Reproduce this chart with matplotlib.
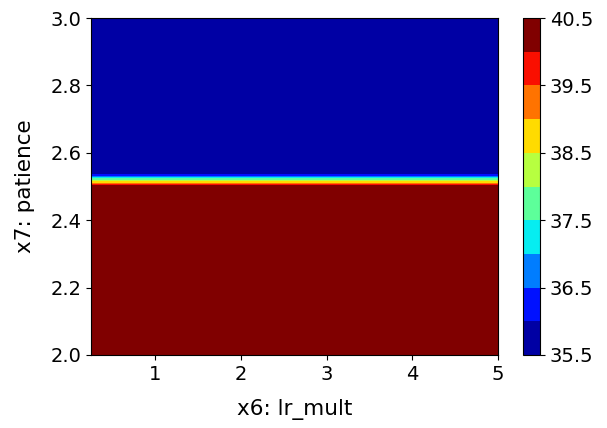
import numpy as np
import matplotlib
matplotlib.use("Agg")
import matplotlib.pyplot as plt

# data: objective over lr_mult (x6) and patience (x7)
lr_mult = [0.25, 1.0, 2.0, 3.0, 4.0, 5.0]
patience = [2.0, 2.5, 2.54, 3.0]
# value per patience row (constant along lr_mult)
row_values = [40.45, 40.45, 35.55, 35.55]
levels = [35.5, 36.0, 36.5, 37.0, 37.5, 38.0, 38.5, 39.0, 39.5, 40.0, 40.5]
cbar_ticks = [35.5, 36.5, 37.5, 38.5, 39.5, 40.5]
color_min, color_max = 35.59, 40.25

X, Y = np.meshgrid(lr_mult, patience)
Z = np.array([[v] * len(lr_mult) for v in row_values])

fig = plt.figure(figsize=(6.07, 4.28), dpi=100)
ax = fig.add_axes([91/607, 1 - 355/428, (498-91)/607, (355-18)/428])
cax = fig.add_axes([523/607, 1 - 355/428, (540-523)/607, (355-18)/428])

cs = ax.contourf(X, Y, Z, levels=levels, cmap="jet", vmin=color_min, vmax=color_max)
ax.set_xlim(0.25, 5)
ax.set_ylim(2, 3)
ax.set_xticks([1, 2, 3, 4, 5])
ax.set_yticks([2.0, 2.2, 2.4, 2.6, 2.8, 3.0])
ax.set_xlabel("x6: lr_mult", fontsize=15.5, labelpad=11)
ax.set_ylabel("x7: patience", fontsize=15.5, labelpad=11)
ax.tick_params(labelsize=14)

cb = fig.colorbar(cs, cax=cax)
cb.set_ticks(cbar_ticks)
cb.ax.tick_params(labelsize=14)

fig.savefig("out.png", dpi=100)
